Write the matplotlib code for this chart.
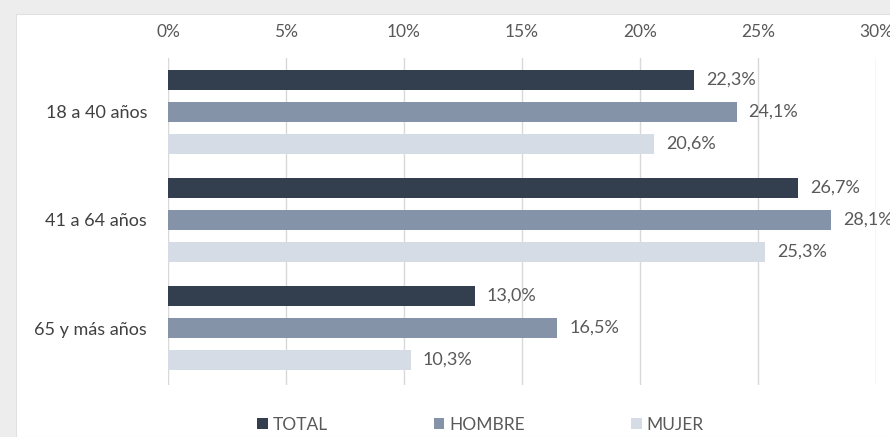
import matplotlib.pyplot as plt
from matplotlib.patches import Rectangle
import numpy as np

categories = ['18 a 40 años', '41 a 64 años', '65 y más años']
series = ['TOTAL', 'HOMBRE', 'MUJER']
total = [22.3, 26.7, 13.0]
hombre = [24.1, 28.1, 16.5]
mujer = [20.6, 25.3, 10.3]
colors = ['#333e4f', '#8593a8', '#d6dce5']

plt.rcParams['font.family'] = ['Lato', 'DejaVu Sans']

fig = plt.figure(figsize=(8.9, 4.37), dpi=100, facecolor='#ededed')
# white chart panel
fig.patches.append(Rectangle((16 / 890, 0), 1, 1 - 14 / 437, transform=fig.transFigure,
                             facecolor='white', edgecolor='#e0e0e0', lw=0.8, zorder=-1))

ax = fig.add_axes([168 / 890, 1 - 385 / 437, 708 / 890, (385 - 58) / 437])
ax.set_facecolor('none')

y = np.arange(len(categories))
off = 32 / 108
h = 20 / 108
for i, (name, vals) in enumerate(zip(series, [total, hombre, mujer])):
    pos = y + (i - 1) * off
    ax.barh(pos, vals, height=h, color=colors[i], label=name, zorder=3)
    for p, v in zip(pos, vals):
        ax.text(v + 0.5, p, f'{v:.1f}%'.replace('.', ','), va='center', ha='left',
                fontsize=13, color='#595959', clip_on=False)

ax.set_xlim(0, 30)
ax.set_ylim(2 + 57 / 108, -0.5)
ax.set_xticks(range(0, 31, 5))
ax.set_xticklabels([f'{t}%' for t in range(0, 31, 5)])
ax.xaxis.tick_top()
ax.tick_params(axis='x', length=0, pad=13, labelsize=12.5, labelcolor='#595959')
ax.set_yticks(y)
ax.set_yticklabels(categories)
ax.tick_params(axis='y', length=0, pad=15, labelsize=13, labelcolor='#404040')
ax.grid(axis='x', color='#d9d9d9', lw=1, zorder=0)
for s in ax.spines.values():
    s.set_visible(False)

fig.legend(loc='center', bbox_to_anchor=(0.54, 1 - 425 / 437), ncol=3, frameon=False,
           fontsize=12.5, labelcolor='#595959', handlelength=0.6, handleheight=0.6,
           handletextpad=0.3, columnspacing=6.1)

fig.savefig('out.png', dpi=100, facecolor=fig.get_facecolor())
